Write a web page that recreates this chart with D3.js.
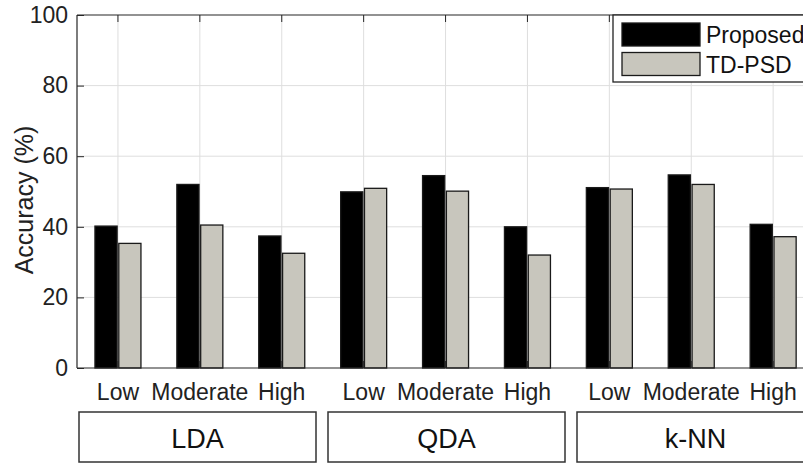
<!DOCTYPE html>
<html>
<head>
<meta charset="utf-8">
<script src="https://cdn.jsdelivr.net/npm/d3@7"></script>
<style>
  body { margin: 0; background: #fff; }
  svg { font-family: "Liberation Sans", Arial, sans-serif; display: block; }
</style>
</head>
<body>
<div id="chart"></div>
<script>
var classifiers = ["LDA", "QDA", "k-NN"];
var levels = ["Low", "Moderate", "High"];
var series = ["Proposed", "TD-PSD"];
var proposed = [40.2, 52.0, 37.4, 49.9, 54.5, 40.0, 51.1, 54.7, 40.7];
var tdpsd = [35.3, 40.5, 32.5, 50.9, 50.1, 32.0, 50.7, 52.0, 37.2];
var yTicks = [0, 20, 40, 60, 80, 100];

var colours = { "Proposed": "#000000", "TD-PSD": "#c8c6bd" };

var width = 803, height = 463;
var plotLeft = 77, plotTop = 15, plotBottom = 368;
var slot = 81.9;

var cats = [];
classifiers.forEach(function(c) {
    levels.forEach(function(l) { cats.push(c + "|" + l); });
});
var data = cats.map(function(c, i) {
    return { cat: c, level: c.split("|")[1], values: [
        { key: "Proposed", value: proposed[i] },
        { key: "TD-PSD", value: tdpsd[i] }
    ]};
});

var svg = d3.select("#chart").append("svg")
    .attr("width", width)
    .attr("height", height);

var xScale = d3.scaleBand().domain(cats).range([plotLeft, plotLeft + slot * cats.length]);
var bw = xScale.bandwidth();
var xSub = d3.scaleBand().domain(series).range([bw / 2 - 23, bw / 2 + 23]).paddingInner(0.07);
var yScale = d3.scaleLinear().domain([0, 100]).range([plotBottom, plotTop]);
var plotRight = plotLeft + slot * cats.length;

// grid
var grid = svg.append("g").attr("class", "grid");
grid.selectAll(".hgrid").data(yTicks.slice(1, -1)).enter().append("line")
    .attr("x1", plotLeft).attr("x2", plotRight)
    .attr("y1", function(d) { return yScale(d); })
    .attr("y2", function(d) { return yScale(d); })
    .style("stroke", "#dedede").style("stroke-width", 1);
grid.selectAll(".vgrid").data(cats).enter().append("line")
    .attr("x1", function(d) { return xScale(d) + bw / 2; })
    .attr("x2", function(d) { return xScale(d) + bw / 2; })
    .attr("y1", plotTop).attr("y2", plotBottom)
    .style("stroke", "#dedede").style("stroke-width", 1);

// bars
var group = svg.selectAll(".grp").data(data).enter().append("g")
    .attr("class", "grp")
    .attr("transform", function(d) { return "translate(" + xScale(d.cat) + ",0)"; });
group.selectAll("rect").data(function(d) { return d.values; }).enter().append("rect")
    .attr("x", function(d) { return xSub(d.key); })
    .attr("width", xSub.bandwidth())
    .attr("y", function(d) { return yScale(d.value); })
    .attr("height", function(d) { return plotBottom - yScale(d.value); })
    .style("fill", function(d) { return colours[d.key]; })
    .style("stroke", "#1a1a1a")
    .style("stroke-width", 1.3);

// axes frame + ticks
var axisCol = "#262626";
svg.append("line").attr("x1", plotLeft).attr("x2", plotRight).attr("y1", plotTop).attr("y2", plotTop)
    .style("stroke", axisCol).style("stroke-width", 1.2);
svg.append("line").attr("x1", plotLeft).attr("x2", plotRight).attr("y1", plotBottom).attr("y2", plotBottom)
    .style("stroke", axisCol).style("stroke-width", 1.2);
svg.append("line").attr("x1", plotLeft).attr("x2", plotLeft).attr("y1", plotTop).attr("y2", plotBottom)
    .style("stroke", axisCol).style("stroke-width", 1.2);

svg.selectAll(".ttick").data(cats).enter().append("line")
    .attr("x1", function(d) { return xScale(d) + bw / 2; })
    .attr("x2", function(d) { return xScale(d) + bw / 2; })
    .attr("y1", plotTop).attr("y2", plotTop + 7)
    .style("stroke", axisCol).style("stroke-width", 1);
svg.selectAll(".btick").data(cats).enter().append("line")
    .attr("x1", function(d) { return xScale(d) + bw / 2; })
    .attr("x2", function(d) { return xScale(d) + bw / 2; })
    .attr("y1", plotBottom).attr("y2", plotBottom - 7)
    .style("stroke", axisCol).style("stroke-width", 1);

var yAxis = d3.axisLeft(yScale).tickValues(yTicks).tickSizeInner(-7).tickSizeOuter(0).tickPadding(9);
var y_axis_elem = svg.append("g")
    .attr("transform", "translate(" + plotLeft + ",0)")
    .call(yAxis);
y_axis_elem.select(".domain").remove();
y_axis_elem.selectAll(".tick line").style("stroke", axisCol);
y_axis_elem.selectAll(".tick text")
    .style("font-size", "23px")
    .style("font-family", "Liberation Sans, Arial, sans-serif")
    .style("fill", "#222");

svg.append("text")
    .attr("transform", "translate(33,200) rotate(-90)")
    .style("text-anchor", "middle")
    .style("font-size", "25px")
    .style("fill", "#222")
    .text("Accuracy (%)");

// level labels
svg.selectAll(".lvl").data(data).enter().append("text")
    .attr("x", function(d) { return xScale(d.cat) + bw / 2; })
    .attr("y", 400)
    .style("text-anchor", "middle")
    .style("font-size", "23px")
    .style("fill", "#222")
    .text(function(d) { return d.level; });

// classifier boxes
var boxW = 237;
var boxes = svg.selectAll(".cbox").data(classifiers).enter().append("g")
    .attr("transform", function(d, i) {
        var x0 = xScale(d + "|" + levels[0]) + 2 + i * 3.3;
        return "translate(" + x0 + ",412)";
    });
boxes.append("rect")
    .attr("width", boxW).attr("height", 50)
    .style("fill", "#fff").style("stroke", "#333").style("stroke-width", 1.5);
boxes.append("text")
    .attr("x", boxW / 2).attr("y", 36)
    .style("text-anchor", "middle")
    .style("font-size", "27px")
    .style("fill", "#111")
    .text(function(d) { return d; });

// legend
var legend = svg.append("g").attr("transform", "translate(613,15)");
legend.append("rect")
    .attr("width", 220).attr("height", 67)
    .style("fill", "#fff").style("stroke", "#222").style("stroke-width", 1.3);
var items = legend.selectAll(".li").data(series).enter().append("g")
    .attr("transform", function(d, i) { return "translate(9," + (8 + i * 29.5) + ")"; });
items.append("rect")
    .attr("width", 78).attr("height", 23)
    .style("fill", function(d) { return colours[d]; })
    .style("stroke", "#1a1a1a").style("stroke-width", 1.3);
items.append("text")
    .attr("x", 84).attr("y", 20)
    .style("font-size", "23px")
    .style("fill", "#111")
    .text(function(d) { return d; });
</script>
</body>
</html>
